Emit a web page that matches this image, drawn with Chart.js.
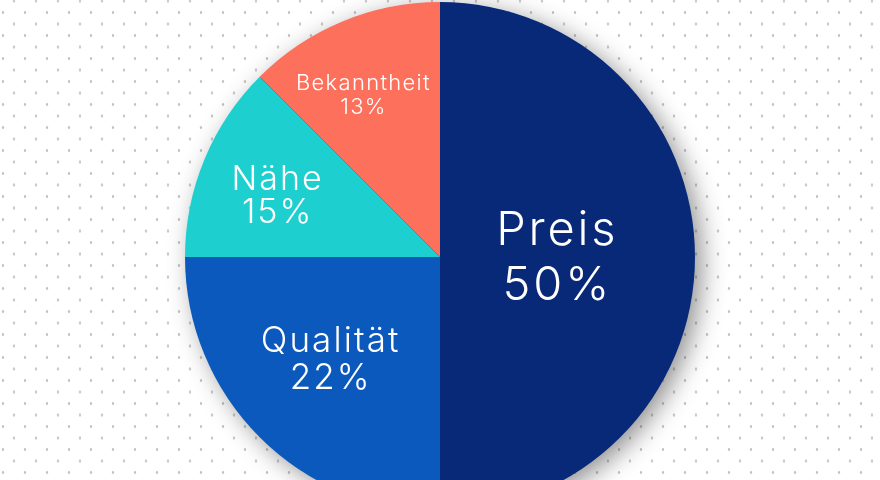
<!DOCTYPE html>
<html>
<head>
<meta charset="utf-8">
<script src="https://cdn.jsdelivr.net/npm/chart.js@4.4.1/dist/chart.umd.min.js"></script>
<style>
    html, body {
        margin: 0;
        padding: 0;
        width: 880px;
        height: 480px;
        overflow: hidden;
        background-color: #ffffff;
        background-image:
            radial-gradient(circle, #c4c4c4 1px, transparent 1.6px),
            radial-gradient(circle, #c4c4c4 1px, transparent 1.6px);
        background-size: 22px 23px;
        background-position: -8px 1px, 3px 12.5px;
    }
    #wrap {
        position: absolute;
        left: 0;
        top: 0;
        width: 880px;
        height: 512px;
    }
</style>
</head>
<body>
<div id="wrap"><canvas id="pieChart"></canvas></div>
<script>
// Chart data
const categories = ['Preis', 'Qualität', 'Nähe', 'Bekanntheit'];
const shares = [50, 25, 12.5, 12.5];
const percentLabels = ['50%', '22%', '15%', '13%'];
const sliceColors = ['#072978', '#0c59be', '#1ecfd0', '#fd705c'];

// Label styling per slice (radius fraction, angle in deg, font size, line height)
const labelStyles = [
    { frac: 0.46, angle: 0.5, size: 47, lh: 55 },
    { frac: 0.59, angle: 136.6, size: 35, lh: 37 },
    { frac: 0.68, angle: 200.5, size: 34, lh: 33 },
    { frac: 0.70, angle: 244.6, size: 22, lh: 24 },
];

const LABEL_FONT = 'Inter, "Open Sans", sans-serif';

// Soft drop shadow behind the pie
const pieShadow = {
    id: 'pieShadow',
    beforeDatasetsDraw(chart) {
        const arc = chart.getDatasetMeta(0).data[0];
        if (!arc) return;
        const ctx = chart.ctx;
        ctx.save();
        ctx.shadowColor = 'rgba(0, 0, 0, 0.45)';
        ctx.shadowBlur = 26;
        ctx.shadowOffsetX = 7;
        ctx.shadowOffsetY = 6;
        ctx.fillStyle = '#072978';
        ctx.beginPath();
        ctx.arc(arc.x, arc.y, arc.outerRadius - 1, 0, Math.PI * 2);
        ctx.fill();
        ctx.restore();
    },
};

// Two-line labels inside the slices
const sliceLabels = {
    id: 'sliceLabels',
    afterDatasetsDraw(chart) {
        const ctx = chart.ctx;
        const arcs = chart.getDatasetMeta(0).data;
        ctx.save();
        ctx.fillStyle = '#ffffff';
        ctx.textAlign = 'center';
        ctx.textBaseline = 'middle';
        arcs.forEach((arc, i) => {
            const st = labelStyles[i];
            const a = (st.angle * Math.PI) / 180;
            const cx = arc.x + Math.cos(a) * arc.outerRadius * st.frac;
            const cy = arc.y + Math.sin(a) * arc.outerRadius * st.frac;
            ctx.font = `300 ${st.size}px ${LABEL_FONT}`;
            ctx.letterSpacing = `${(st.size * 0.06).toFixed(1)}px`;
            ctx.fillText(categories[i], cx, cy - st.lh / 2);
            ctx.fillText(percentLabels[i], cx, cy + st.lh / 2);
        });
        ctx.restore();
    },
};

document.addEventListener('DOMContentLoaded', () => {
    const ctx = document.getElementById('pieChart');
    new Chart(ctx.getContext('2d'), {
        type: 'pie',
        data: {
            labels: categories,
            datasets: [
                {
                    data: shares,
                    backgroundColor: sliceColors,
                    borderWidth: 0,
                },
            ],
        },
        options: {
            responsive: true,
            maintainAspectRatio: false,
            animation: false,
            layout: { padding: { top: 2, bottom: 0, left: 0, right: 0 } },
            plugins: {
                legend: { display: false },
                tooltip: { enabled: false },
            },
        },
        plugins: [pieShadow, sliceLabels],
    });
});
</script>
</body>
</html>
